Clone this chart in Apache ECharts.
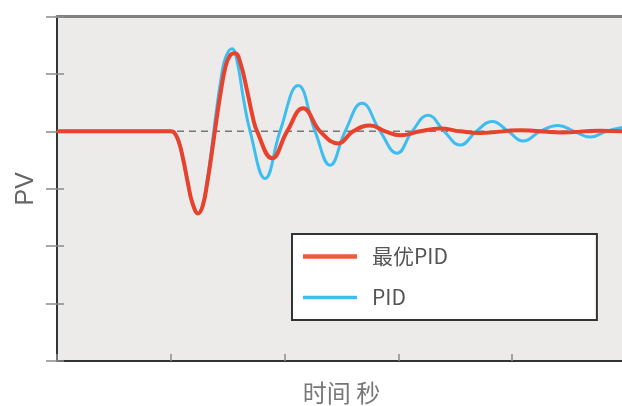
<!DOCTYPE html>
<html>
<head>
<meta charset="utf-8">
<script src="https://cdn.jsdelivr.net/npm/echarts@6/dist/echarts.min.js"></script>
<style>
html,body{margin:0;padding:0;background:#fff;}
#c{width:622px;height:406px;}
</style>
</head>
<body>
<div id="c"></div>
<script>
// Time axis (seconds, arbitrary units) and PV values
var timeOpt = [0, 1.00, 1.03, 1.07, 1.11, 1.15, 1.19, 1.24, 1.28, 1.32, 1.36, 1.40, 1.44, 1.48, 1.52, 1.565, 1.61, 1.67, 1.72, 1.758, 1.890, 2.022, 2.163, 2.312, 2.470, 2.602, 2.752, 2.884, 3.015, 3.191, 3.367, 3.543, 3.719, 4.07, 4.42, 4.77, 5.0];
var pvOpt   = [0, 0, -0.02, -0.18, -0.50, -0.90, -1.25, -1.43, -1.30, -0.90, -0.38, 0.18, 0.70, 1.12, 1.32, 1.36, 1.20, 0.71, 0.25, 0, -0.47, 0, 0.40, 0, -0.21, 0, 0.10, 0, -0.07, 0, 0.05, 0, -0.03, 0.02, -0.02, 0.01, 0];

var timePid = [0, 1.00, 1.03, 1.07, 1.11, 1.15, 1.19, 1.24, 1.28, 1.32, 1.36, 1.40, 1.44, 1.48, 1.538, 1.58, 1.64, 1.697, 1.829, 1.960, 2.119, 2.268, 2.400, 2.532, 2.681, 2.840, 2.989, 3.121, 3.262, 3.402, 3.543, 3.684, 3.824, 3.965, 4.097, 4.246, 4.404, 4.545, 4.686, 4.826, 5.0];
var pvPid   = [0, 0, -0.02, -0.18, -0.50, -0.90, -1.25, -1.43, -1.30, -0.85, -0.28, 0.35, 0.90, 1.28, 1.44, 1.25, 0.55, 0, -0.82, 0, 0.80, 0, -0.59, 0, 0.49, 0, -0.38, 0, 0.28, 0, -0.24, 0, 0.17, 0, -0.17, 0, 0.10, 0, -0.10, 0, 0.08];

var setTime = [0, 5];
var setPv = [0, 0];

var seriesNames = ['最优PID', 'PID'];
var xName = '时间 秒';
var yName = 'PV';

function pairs(xs, ys){ return xs.map(function(x,i){ return [x, ys[i]]; }); }

var chart = echarts.init(document.getElementById('c'), null, {renderer:'canvas'});
var tickStyle = {show:true, inside:true, length:7, lineStyle:{color:'#8a8a8a', width:1.5}};
chart.setOption({
  backgroundColor:'#ffffff',
  animation:false,
  grid:{left:57, top:16.5, right:-4, bottom:45, show:true, backgroundColor:'#ecebe9', borderWidth:0, containLabel:false, outerBoundsMode:'none'},
  legend:{
    orient:'vertical', left:292, top:234,
    data:[
      {name:seriesNames[0], icon:'path://M0 0H54V4.5H0Z'},
      {name:seriesNames[1], icon:'path://M0 0H54V3.5H0Z'}
    ],
    backgroundColor:'#ffffff', borderColor:'#333', borderWidth:2,
    padding:[12, 149, 12, 11],
    itemWidth:54, itemHeight:14, itemGap:20,
    textStyle:{fontSize:21, color:'#555', fontFamily:'"Noto Sans CJK SC", sans-serif', padding:[0,0,0,10]}
  },
  xAxis:[{
    type:'value', min:0, max:5, interval:1,
    name:xName, nameLocation:'middle', nameGap:20,
    nameTextStyle:{fontSize:24, color:'#777', fontFamily:'"Noto Sans CJK SC", sans-serif'},
    axisLine:{show:true, onZero:false, lineStyle:{color:'#333', width:2}},
    axisTick:tickStyle, axisLabel:{show:false}, splitLine:{show:false}
  },{
    type:'value', min:0, max:5, position:'top',
    axisLine:{show:true, onZero:false, lineStyle:{color:'#808080', width:3}},
    axisTick:{show:false}, axisLabel:{show:false}, splitLine:{show:false}
  }],
  yAxis:[{
    type:'value', min:-4, max:2, interval:1,
    name:yName, nameLocation:'middle', nameGap:18,
    nameTextStyle:{fontSize:25, color:'#666', fontFamily:'"Liberation Sans", sans-serif'},
    axisLine:{show:true, onZero:false, lineStyle:{color:'#333', width:2}},
    axisTick:tickStyle, axisLabel:{show:false}, splitLine:{show:false}
  },{
    type:'value', min:-4, max:2, interval:1, position:'right',
    axisLine:{show:false},
    axisTick:{show:true, inside:true, length:11, lineStyle:{color:'#8a8a8a', width:1.5}},
    axisLabel:{show:false}, splitLine:{show:false}
  }],
  series:[
    {type:'line', name:'setpoint', data:pairs(setTime, setPv), symbol:'none', silent:true,
     lineStyle:{color:'#777', width:1.5, type:[7,5]}, z:1},
    {type:'line', name:seriesNames[1], data:pairs(timePid, pvPid), symbol:'none', smooth:0.45,
     lineStyle:{color:'#3dbdf0', width:3}, itemStyle:{color:'#3dbdf0'}, z:2},
    {type:'line', name:seriesNames[0], data:pairs(timeOpt, pvOpt), symbol:'none', smooth:0.45,
     lineStyle:{color:'#e8412c', width:4}, itemStyle:{color:'#ee5a3c'}, z:3}
  ]
});
</script>
</body>
</html>
